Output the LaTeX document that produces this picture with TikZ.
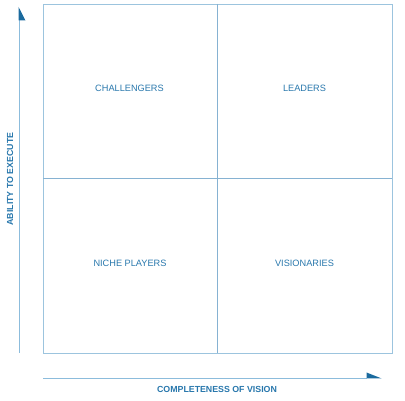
\documentclass[tikz,border=0pt]{standalone}
\usepackage{fontspec}
\setmainfont{Liberation Sans}
\definecolor{boxline}{HTML}{9CC4DE}
\definecolor{divline}{HTML}{86B2D2}
\definecolor{labeltext}{HTML}{2877AC}
\definecolor{arrowtip}{HTML}{1A6A9E}
\definecolor{axisline}{HTML}{8CBCDC}
\begin{document}
\begin{tikzpicture}[x=1pt,y=-1pt,
  quadlabel/.style={text=labeltext,font=\fontsize{9.2}{11}\selectfont,inner sep=0pt},
  axislabel/.style={text=labeltext,font=\fontsize{8.8}{10}\selectfont\bfseries,inner sep=0pt},
  frame/.style={draw=boxline,line width=0.9pt},
  divider/.style={draw=divline,line width=0.8pt},
  axis/.style={draw=axisline,line width=0.9pt},
  tip/.style={fill=arrowtip,draw=none}]
\useasboundingbox (0,0) rectangle (405,401);
\coordinate (tl) at (43,4);
\coordinate (br) at (392,353);
\draw[frame] (tl) rectangle (br);
\coordinate (mt) at (217.5,4);
\coordinate (mb) at (217.5,353);
\coordinate (ml) at (43,178.5);
\coordinate (mr) at (392,178.5);
\draw[divider] (mt) -- (mb);
\draw[divider] (ml) -- (mr);
\node[quadlabel] (chal) at (129.5,88) {CHALLENGERS};
\node[quadlabel] (lead) at (304.5,88) {LEADERS};
\node[quadlabel] (niche) at (130,263.5) {NICHE PLAYERS};
\node[quadlabel] (vis) at (304.5,263.5) {VISIONARIES};
% vertical axis
\coordinate (vb) at (19,353);
\coordinate (vt) at (19,20);
\draw[axis] (vb) -- (vt);
\fill[tip] (18.6,7) -- (25.5,20.5) -- (18.6,20.5) -- cycle;
\node[axislabel,rotate=90] (ylab) at (10,179) {ABILITY TO EXECUTE};
% horizontal axis
\coordinate (hl) at (43,378);
\coordinate (hr) at (367,378);
\draw[axis] (hl) -- (hr);
\fill[tip] (366.5,372.5) -- (381.5,378.4) -- (366.5,378.4) -- cycle;
\node[axislabel] (xlab) at (217,389.5) {COMPLETENESS OF VISION};
\end{tikzpicture}
\end{document}
